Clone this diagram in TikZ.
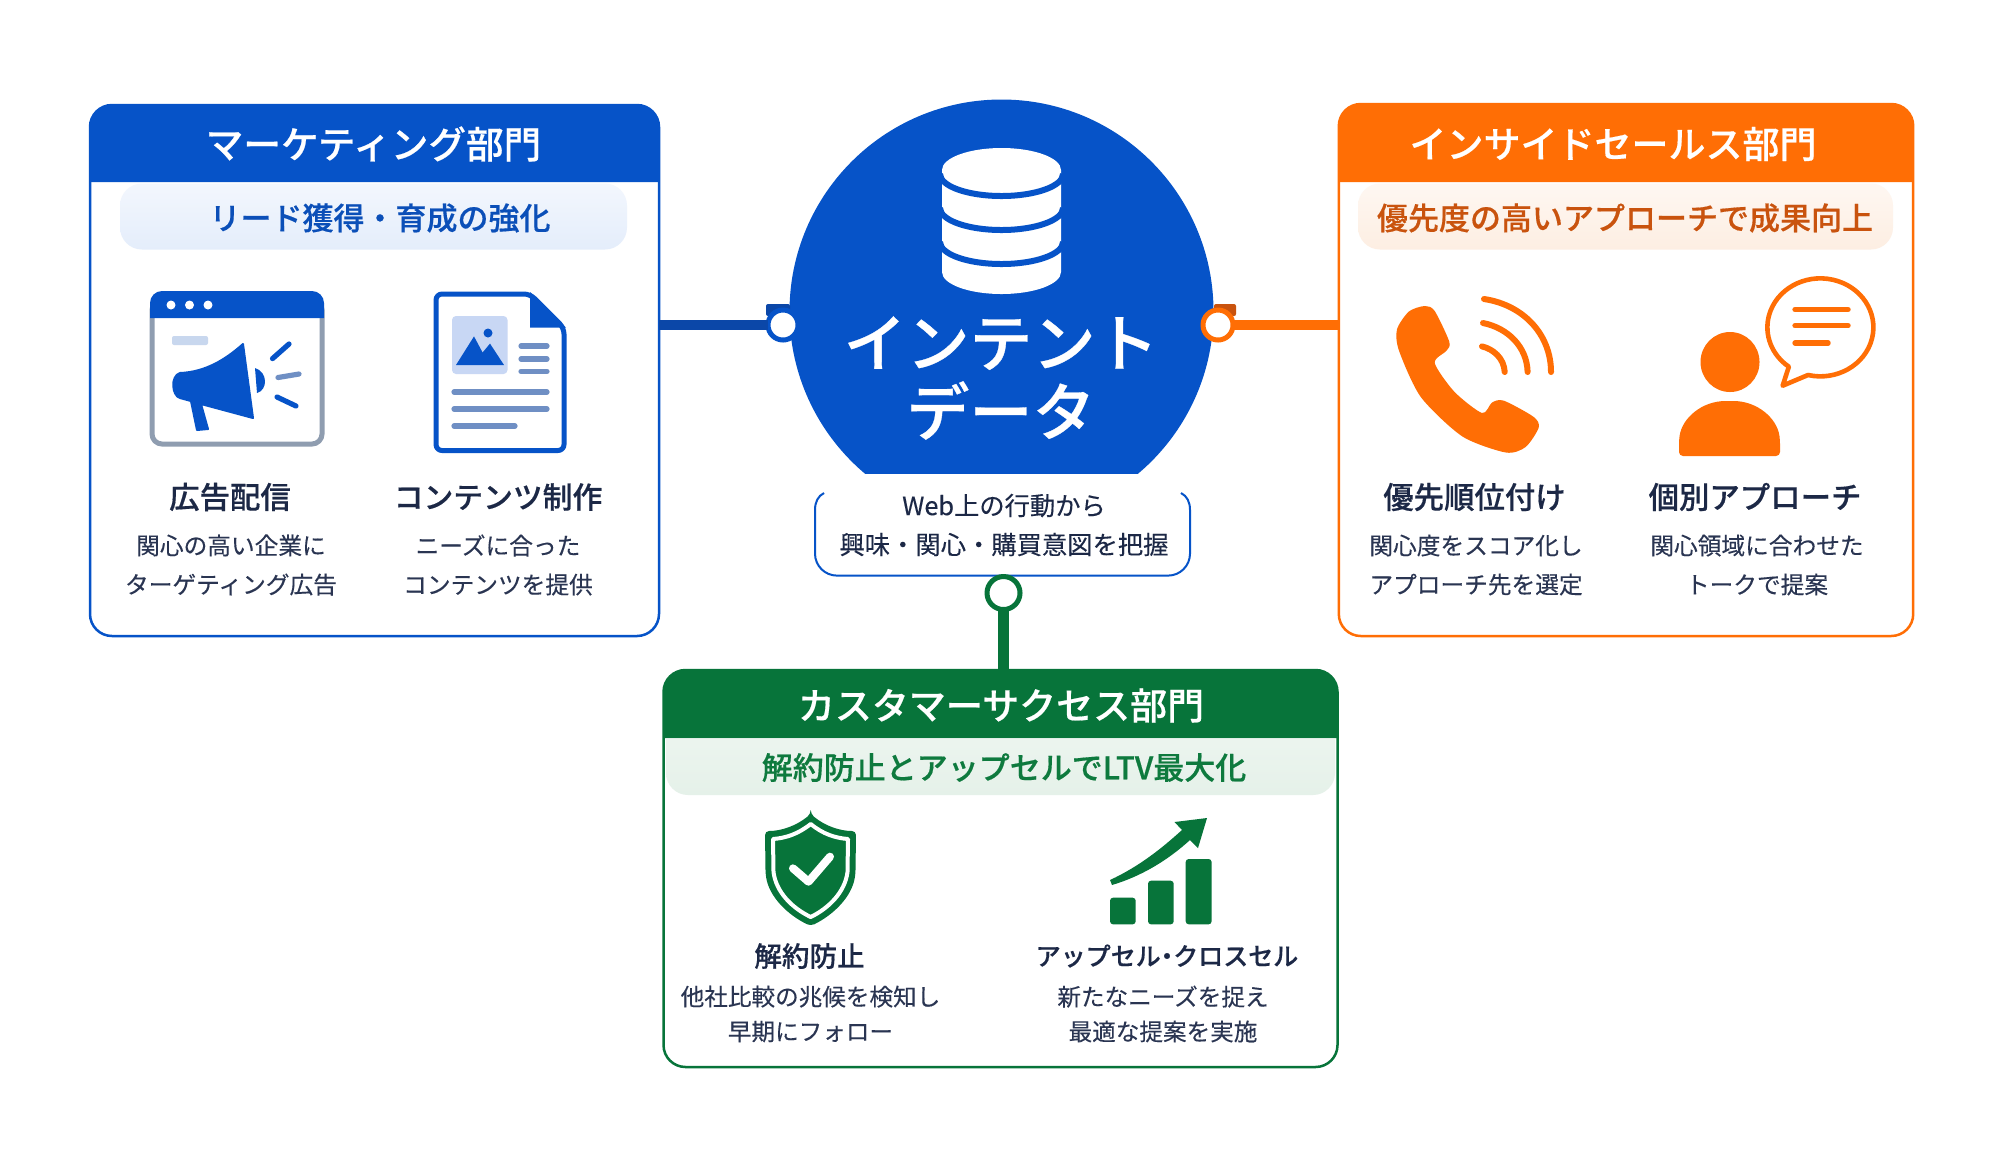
\documentclass[tikz,border=0pt]{standalone}
\usepackage{fontspec}
\setmainfont{Noto Sans CJK JP}[FakeBold=0.2,BoldFont={Noto Sans CJK JP Medium},BoldFeatures={FakeBold=0.45}]
\definecolor{cblue}{HTML}{0653C8}
\definecolor{cdblue}{HTML}{0B47A8}
\definecolor{corange}{HTML}{FF6E05}
\definecolor{cgreen}{HTML}{07743A}
\definecolor{cink}{HTML}{1C2846}
\definecolor{cinkb}{HTML}{2A3552}
\definecolor{bandb}{HTML}{E4EDFB}
\definecolor{bando}{HTML}{FDEEE2}
\definecolor{bandg}{HTML}{E5F1E9}
\definecolor{subo}{HTML}{C9530E}
\definecolor{subg}{HTML}{0E7A3E}
\definecolor{subb}{HTML}{0B4FB8}
\definecolor{winedge}{HTML}{8F9DB0}
\definecolor{docline}{HTML}{6F8FC4}
\tikzset{
  panel/.style={draw=#1,line width=1.25pt,fill=white,rounded corners=11pt,inner sep=0pt,outer sep=0pt},
  bandbox/.style={top color=#1!45!white,bottom color=#1,draw=none,rounded corners=11pt,inner sep=0pt,outer sep=0pt},
  headtext/.style={text=white,font=\bfseries\fontsize{18.5}{20}\selectfont,inner sep=0pt},
  subtext/.style={text=#1,font=\bfseries\fontsize{15.5}{18}\selectfont,inner sep=0pt},
  itemtitle/.style={text=cink,font=\bfseries\fontsize{15.2}{18}\selectfont,inner sep=0pt},
  itemdesc/.style={text=cinkb,font=\fontsize{11.85}{19.5}\selectfont,align=center,inner sep=0pt},
  ringnode/.style={circle,draw=#1,line width=2.5pt,fill=white,inner sep=0pt,outer sep=0pt,minimum size=15pt},
  conn/.style={draw=#1,line width=5.4pt},
  thinline/.style={line width=2.6pt,line cap=round,draw=#1},
}
\begin{document}
\begin{tikzpicture}[x=0.5pt,y=-0.5pt]
\useasboundingbox (0,0) rectangle (2000,1148);
\fill[white] (0,0) rectangle (2000,1148);

% ---------- panels
\node[panel=cblue,minimum width=284.5pt,minimum height=265.5pt] (mkt) at (374.5,370.5) {};
\node[panel=corange,minimum width=287.2pt,minimum height=266pt] (isd) at (1626,370) {};
\node[panel=cgreen,minimum width=337pt,minimum height=198.5pt] (cs) at (1000.5,868.5) {};

\fill[cblue] (90,182) [rounded corners=11pt] -- (90,105) -- (659,105) [sharp corners] -- (659,182) -- cycle;
\fill[corange] (1338.6,182) [rounded corners=11pt] -- (1338.6,104) -- (1913,104) [sharp corners] -- (1913,182) -- cycle;
\fill[cgreen] (663.5,738) [rounded corners=11pt] -- (663.5,670) -- (1337.5,670) [sharp corners] -- (1337.5,738) -- cycle;

\node[bandbox=bandb,minimum width=253.5pt,minimum height=33pt] (mktband) at (373.5,216.5) {};
\node[bandbox=bando,minimum width=267.5pt,minimum height=33pt] (isdband) at (1625.5,216.5) {};
\shade[top color=bandg!75!white,bottom color=bandg] (666,739) [rounded corners=11pt] -- (666,795) -- (1335,795) [sharp corners] -- (1335,739) -- cycle;

\node[headtext,font=\bfseries\fontsize{18.8}{20}\selectfont] (mkthead) at (373.5,144) {マーケティング部門};
\node[headtext] (isdhead) at (1613,144) {インサイドセールス部門};
\node[headtext] (cshead) at (1001,705.5) {カスタマーサクセス部門};
\node[subtext=subb] (mktsub) at (380,218) {リード獲得・育成の強化};
\node[subtext=subo] (isdsub) at (1625,218) {優先度の高いアプローチで成果向上};
\node[subtext=subg] (cssub) at (1004,767.5) {解約防止とアップセルでLTV最大化};

% ---------- centre circle
\begin{scope}
\clip (700,60) rectangle (1300,473.6);
\fill[cblue] (1001.5,311.5) circle[radius=212];
\end{scope}
% database
\fill[white] (942,170) -- (942,272) arc[start angle=180,end angle=0,x radius=59.5,y radius=22] -- (1061,170) arc[start angle=0,end angle=-180,x radius=59.5,y radius=22] -- cycle;
\draw[cblue,line width=3pt] (940,174) arc[start angle=180,end angle=0,x radius=61.5,y radius=22];
\draw[cblue,line width=3pt] (940,208) arc[start angle=180,end angle=0,x radius=61.5,y radius=22];
\draw[cblue,line width=3pt] (940,242) arc[start angle=180,end angle=0,x radius=61.5,y radius=22];
\node[text=white,font=\bfseries\fontsize{31.5}{34.5}\selectfont,align=center,inner sep=0pt] (core) at (1001,378) {インテント\\データ};

% caption
\node[text=cink,font=\fontsize{12.65}{19.5}\selectfont,align=center,inner sep=0pt,minimum width=187.5pt,minimum height=41pt] (cap) at (1004,525) {Web上の行動から\\興味・関心・購買意図を把握};
\draw[cblue,line width=1pt] (824,493) .. controls (818,496) and (815,502) .. (815,510) [rounded corners=11pt] -- (815,575.6) -- (1190,575.6) [sharp corners] -- (1190,510) .. controls (1190,502) and (1187,496) .. (1181,493);

% ---------- rings and connectors
\fill[cdblue,rounded corners=1pt] (766,304) rectangle (790,316);
\fill[subo,rounded corners=1pt] (1214,304) rectangle (1236,316);
\node[ringnode=cblue] (ringL) at (783,325) {};
\node[ringnode=corange] (ringR) at (1218,325) {};
\node[ringnode=cgreen,minimum size=16.5pt] (ringB) at (1003.5,593) {};
\draw[conn=cdblue] (mkt.east |- ringL) -- (ringL);
\draw[conn=corange] (isd.west |- ringR) -- (ringR);
\draw[conn=cgreen] (ringB) -- (ringB |- cs.north);

% ---------- marketing icons
\draw[winedge,line width=2.5pt,fill=white,rounded corners=5pt] (152,300) rectangle (322,444);
\fill[cblue] (150,318) [rounded corners=6pt] -- (150,291) -- (324,291) [sharp corners] -- (324,318) -- cycle;
\fill[white] (171,305) circle[radius=4.5] (189.5,305) circle[radius=4.5] (208,305) circle[radius=4.5];
\fill[black!10!cblue!22,rounded corners=1pt] (172,336) rectangle (208,345);
\fill[cblue,line join=round,draw=cblue,line width=1pt] (243,344) .. controls (225,360) and (205,372) .. (180,373) .. controls (170,376) and (172,396) .. (180,398) -- (191,401) -- (197,430) -- (208,429) -- (201,404) -- (253,418) -- cycle;
\fill[cblue] (255,368) .. controls (268,372) and (268,390) .. (257,393) -- cycle;
\draw[thinline=cblue] (272.5,358.6) -- (289,344);
\draw[thinline=docline] (278,377.5) -- (299,374);
\draw[thinline=cblue] (277,397) -- (296,406);
% document
\draw[cblue,line width=2.5pt,fill=white,line join=round,rounded corners=3pt] (436,294) -- (530,294) -- (564,328) -- (564,450.5) -- (436,450.5) -- cycle;
\fill[cblue,line join=round] (530,292) -- (566,327.5) -- (530,327.5) -- cycle;
\fill[blue!10!cblue!22,rounded corners=2pt] (452,316) rectangle (507.5,374);
\fill[cblue] (456,365) -- (474,336.4) -- (482.6,352.5) -- (490,343.6) -- (504,365) -- cycle;
\fill[cblue] (488,333) circle[radius=4.5];
\draw[thinline=docline] (521,346) -- (547,346);
\draw[thinline=docline] (521,359) -- (547,359);
\draw[thinline=docline] (521,371.4) -- (547,371.4);
\draw[thinline=docline] (454,392) -- (547,392);
\draw[thinline=docline] (454,409) -- (547,409);
\draw[thinline=docline] (454,426) -- (515,426);

\node[itemtitle] (t1) at (230,497) {広告配信};
\node[itemtitle,font=\bfseries\fontsize{14.9}{18}\selectfont] (t2) at (498,497) {コンテンツ制作};
\node[itemdesc] (d1) at (231,565) {関心の高い企業に\\ターゲティング広告};
\node[itemdesc] (d2) at (498,565) {ニーズに合った\\コンテンツを提供};

% ---------- inside sales icons
\fill[corange] plot[smooth cycle,tension=0.45] coordinates {(1424.8,306) (1434.7,311) (1449.3,341.8) (1446.5,350.7) (1434.7,363) (1454.4,391.8) (1482,413) (1492,402.5) (1503.9,400.7) (1533.5,416.8) (1538.7,427.5) (1525.6,447) (1505.8,452.5) (1462.3,436.4) (1420.8,397) (1399,350.7) (1397,329.3) (1409,311.4)};
\draw[corange,line width=3pt,line cap=round] (1484,299) .. controls (1524,305) and (1551,335) .. (1551,372);
\draw[corange,line width=3pt,line cap=round] (1483,323) .. controls (1508,328) and (1527,347) .. (1527.6,372);
\draw[corange,line width=3pt,line cap=round] (1482,346.4) .. controls (1493,349) and (1504,358) .. (1504.7,372);
\fill[corange] (1730,362) ellipse[x radius=29.5,y radius=30];
\fill[corange,rounded corners=2pt] (1679,456) -- (1679,440) .. controls (1682,418) and (1702,401) .. (1729.5,401) .. controls (1757,401) and (1777,418) .. (1780,440) -- (1780,456) -- cycle;
\draw[corange,line width=2.3pt,line join=round] (1808,375) arc[start angle=103.5,end angle=-233.5,x radius=53,y radius=49] -- (1782.6,385.7) -- cycle;
\draw[corange,line width=2.7pt,line cap=round] (1795,309.6) -- (1848,309.6) (1795,325.7) -- (1848,325.7) (1795,343) -- (1828,343);

\node[itemtitle] (t3) at (1474.5,497) {優先順位付け};
\node[itemtitle] (t4) at (1755,497) {個別アプローチ};
\node[itemdesc] (d3) at (1476,565) {関心度をスコア化し\\アプローチ先を選定};
\node[itemdesc] (d4) at (1757,565) {関心領域に合わせた\\トークで提案};

% ---------- customer success icons
\fill[cgreen,rounded corners=2pt] (810.7,814) .. controls (825,826) and (840,831) .. (856,831) -- (855.5,873) .. controls (852,897) and (833,915) .. (810.7,926) .. controls (788,915) and (769,897) .. (765.5,873) -- (765,831) .. controls (781,831) and (796,826) .. (810.7,814) -- cycle;
\draw[white,line width=2pt,line join=round] (810.7,824) .. controls (823,834) and (835,838) .. (848,839) -- (847.5,872) .. controls (845,892) and (829,908) .. (810.7,917) .. controls (792,908) and (776,892) .. (773.5,872) -- (773,839) .. controls (786,838) and (798,834) .. (810.7,824) -- cycle;
\draw[white,line width=4pt,line cap=round,line join=round] (793,868.3) -- (808.5,881.7) -- (830,856.7);
\fill[cgreen,rounded corners=1.5pt] (1110,897.7) rectangle (1135.7,924.3);
\fill[cgreen,rounded corners=1.5pt] (1148,880.7) rectangle (1173.7,924.3);
\fill[cgreen,rounded corners=1.5pt] (1185.7,859) rectangle (1211.6,924.3);
\fill[cgreen,line join=round] (1110,880) .. controls (1140,866) and (1162,848) .. (1182,830) -- (1174.5,822) -- (1207,818) -- (1198,848) -- (1190,840) .. controls (1168,860) and (1142,876) .. (1112,885) -- cycle;

\node[itemtitle,font=\bfseries\fontsize{13.8}{18}\selectfont] (t5) at (809.5,956) {解約防止};
\node[itemtitle,font=\bfseries\fontsize{12.5}{18}\selectfont] (t6) at (1167,956) {アップセル\kern-0.25em・\kern-0.25em クロスセル};
\node[itemdesc,font=\fontsize{11.8}{17.4}\selectfont] (d5) at (810.5,1014) {他社比較の兆候を検知し\\早期にフォロー};
\node[itemdesc,font=\fontsize{11.8}{17.4}\selectfont] (d6) at (1163,1014) {新たなニーズを捉え\\最適な提案を実施};
\end{tikzpicture}
\end{document}
